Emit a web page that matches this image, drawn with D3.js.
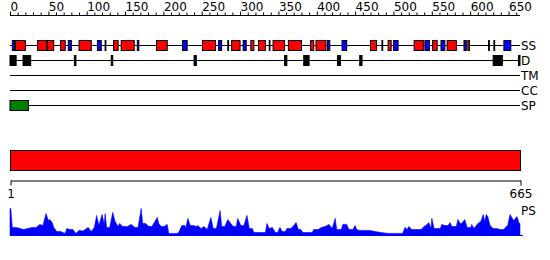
<!DOCTYPE html>
<html><head><meta charset="utf-8">
<script src="https://cdn.jsdelivr.net/npm/d3@7"></script>
<style>body{margin:0;background:#fff}svg{display:block}text{font-family:"DejaVu Sans",sans-serif}</style>
</head><body>
<script>
const seqLength = 665;
const topTicks = d3.range(0, 661, 10);
const trackLabels = ["SS", "D", "TM", "CC", "SP"];
const ssType  = ["E","H","H","H","H","E","H","E","C","H","H","E","H","E","H","E","C","H","E","H","H","C","H","H","H","H","E","E","H","C","H","E","H","E","H","E","H","E","H","E","E","E"];
const ssStart = [3,7,36,49,66,76,90,114,124,135,145,166,191,225,251,272,284,289,304,314,324,338,343,363,392,399,414,433,470,485,493,500,527,541,551,562,570,592,597,624,631,644];
const ssEnd   = [6,20,48,57,72,80,106,119,125,141,162,168,205,231,268,276,285,300,308,318,333,339,358,380,396,412,417,439,478,486,497,506,539,547,557,567,582,595,599,625,632,653];
const disStart = [0,17,84,132,240,358,383,427,456,630,663];
const disEnd   = [8,27,86,134,243,361,390,431,459,642,665];
const spStart = [0];
const spEnd = [24];
const domainStart = [1];
const domainEnd = [665];
const psPos = [0,1,3,8,13,18,23,29,34,39,43,47,50,52,55,57,61,66,72,74,78,82,86,90,95,102,106,110,113,116,120,123,124,126,130,134,137,141,143,147,153,158,163,167,171,173,177,181,185,189,192,194,197,201,205,207,213,218,220,224,228,229,232,235,239,243,245,249,253,257,262,265,269,270,274,276,280,284,287,291,295,297,301,305,309,312,316,318,326,333,335,338,342,346,349,352,355,359,361,366,369,373,376,379,382,389,394,396,402,406,411,416,420,424,426,432,434,439,442,447,450,452,456,463,469,476,484,493,502,512,515,518,520,524,532,536,540,544,546,549,550,553,561,563,567,571,574,576,582,584,587,589,593,596,601,602,605,610,614,617,619,621,623,626,630,635,639,644,647,649,652,655,657,661,664,665];
const psVal = [0.9,0.9,0.27,0.27,0.23,0.2,0.23,0.27,0.27,0.37,0.33,0.73,0.5,0.53,0.43,0.27,0.13,0.13,0.07,0.23,0.2,0.2,0.07,0.17,0.15,0.27,0.13,0.27,0.67,0.33,0.7,0.37,0.73,0.27,0.27,0.77,0.47,0.3,0.4,0.3,0.3,0.37,0.27,0.27,0.9,0.4,0.4,0.3,0.3,0.47,0.6,0.4,0.3,0.3,0.37,0.07,0.07,0.07,0.1,0.33,0.33,0.23,0.57,0.33,0.33,0.3,0.33,0.23,0.3,0.2,0.6,0.23,0.23,0.33,0.83,0.3,0.3,0.53,0.43,0.3,0.3,0.57,0.33,0.33,0.67,0.23,0.23,0.1,0.1,0.1,0.4,0.23,0.27,0.1,0.1,0.27,0.13,0.13,0.23,0.23,0.3,0.43,0.2,0.2,0.1,0.1,0.1,0.2,0.2,0.27,0.3,0.37,0.23,0.57,0.2,0.2,0.37,0.37,0.2,0.2,0.33,0.2,0.17,0.17,0.17,0.13,0.1,0.07,0.07,0.07,0.27,0.2,0.3,0.2,0.2,0.2,0.3,0.37,0.43,0.23,0.57,0.23,0.23,0.37,0.33,0.33,0.43,0.3,0.3,0.53,0.4,0.4,0.53,0.27,0.27,0.37,0.23,0.4,0.47,0.7,0.47,0.7,0.63,0.33,0.23,0.23,0.2,0.2,0.3,0.33,0.7,0.57,0.5,0.63,0.4,0.4];

const ssColor = {H: "#ff0000", E: "#0000ff", C: "#000000"};

const svg = d3.select("body").append("svg").attr("width", 550).attr("height", 260);
const x = d3.scaleLinear().domain([0, seqLength]).range([10, 520]);
const trackY = d3.scalePoint().domain(trackLabels).range([45.5, 105.5]);

// top axis
const topAxis = d3.axisTop(x).tickValues(topTicks)
  .tickSize(3).tickSizeOuter(0)
  .tickFormat(d => d % 50 === 0 ? d : "");
const ta = svg.append("g").attr("transform", "translate(0,15.5)").call(topAxis);
ta.select(".domain").attr("d", `M${x(0)},0H${x(seqLength)}`).attr("stroke", "#000");
ta.selectAll(".tick line").attr("stroke", "#000").attr("y2", d => d % 50 === 0 ? -4 : -3);
ta.selectAll(".tick text").attr("text-anchor", "start").attr("y", -4.5).attr("dy", 0)
  .attr("font-size", 12).attr("fill", "#000").attr("font-family", "DejaVu Sans");

// track lines and labels
trackLabels.forEach(t => {
  svg.append("line").attr("x1", x(0)).attr("x2", x(seqLength))
    .attr("y1", trackY(t)).attr("y2", trackY(t)).attr("stroke", "#000");
  svg.append("text").attr("x", 521).attr("y", trackY(t) + 4.5)
    .attr("font-size", 12).attr("fill", "#000").text(t);
});

const boxH = 10;
// SS
svg.append("g").selectAll("rect").data(ssType.map((t, i) => ({t, s: ssStart[i], e: ssEnd[i]})))
  .join("rect")
  .attr("x", d => x(d.s)).attr("width", d => Math.max(0.5, x(d.e) - x(d.s)))
  .attr("y", trackY("SS") - boxH / 2).attr("height", boxH)
  .attr("fill", d => ssColor[d.t]).attr("stroke", "#000").attr("stroke-width", 1);
// D
svg.append("g").selectAll("rect").data(disStart.map((s, i) => ({s, e: disEnd[i]})))
  .join("rect")
  .attr("x", d => x(d.s)).attr("width", d => Math.max(0.5, x(d.e) - x(d.s)))
  .attr("y", trackY("D") - boxH / 2).attr("height", boxH)
  .attr("fill", "#000").attr("stroke", "#000");
// SP
svg.append("g").selectAll("rect").data(spStart.map((s, i) => ({s, e: spEnd[i]})))
  .join("rect")
  .attr("x", d => x(d.s)).attr("width", d => x(d.e) - x(d.s))
  .attr("y", trackY("SP") - boxH / 2).attr("height", boxH)
  .attr("fill", "#008000").attr("stroke", "#000");

// domain bar
const xd = d3.scaleLinear().domain([1, seqLength]).range([10.5, 520.5]);
svg.append("g").selectAll("rect").data(domainStart.map((s, i) => ({s, e: domainEnd[i]})))
  .join("rect")
  .attr("x", d => xd(d.s)).attr("width", d => xd(d.e) - xd(d.s))
  .attr("y", 150.5).attr("height", 20)
  .attr("fill", "#ff0000").attr("stroke", "#000");

// bottom axis
const botAxis = d3.axisBottom(xd).tickValues([1, seqLength]).tickSize(5).tickSizeOuter(0);
const ba = svg.append("g").attr("transform", "translate(0,180.5)").call(botAxis);
ba.select(".domain").attr("stroke", "#000");
ba.selectAll(".tick line").attr("stroke", "#000");
ba.selectAll(".tick text").attr("y", 9).attr("dy", "0.71em")
  .attr("font-size", 12).attr("fill", "#000").attr("font-family", "DejaVu Sans");

// PS area
const yps = d3.scaleLinear().domain([0, 1]).range([235.5, 205.5]);
const psData = psPos.map((p, i) => [p, psVal[i]]);
svg.append("path").datum(psData)
  .attr("d", d3.area().x(d => x(d[0])).y0(yps(0)).y1(d => yps(d[1])))
  .attr("fill", "#0000ff").attr("stroke", "#0000ff").attr("stroke-width", 0.6);
svg.append("line").attr("x1", x(0)).attr("x2", 523).attr("y1", 235.5).attr("y2", 235.5)
  .attr("stroke", "#0000ff");
svg.append("text").attr("x", 521).attr("y", 215).attr("font-size", 12).attr("fill", "#000").text("PS");
</script>
</body></html>
